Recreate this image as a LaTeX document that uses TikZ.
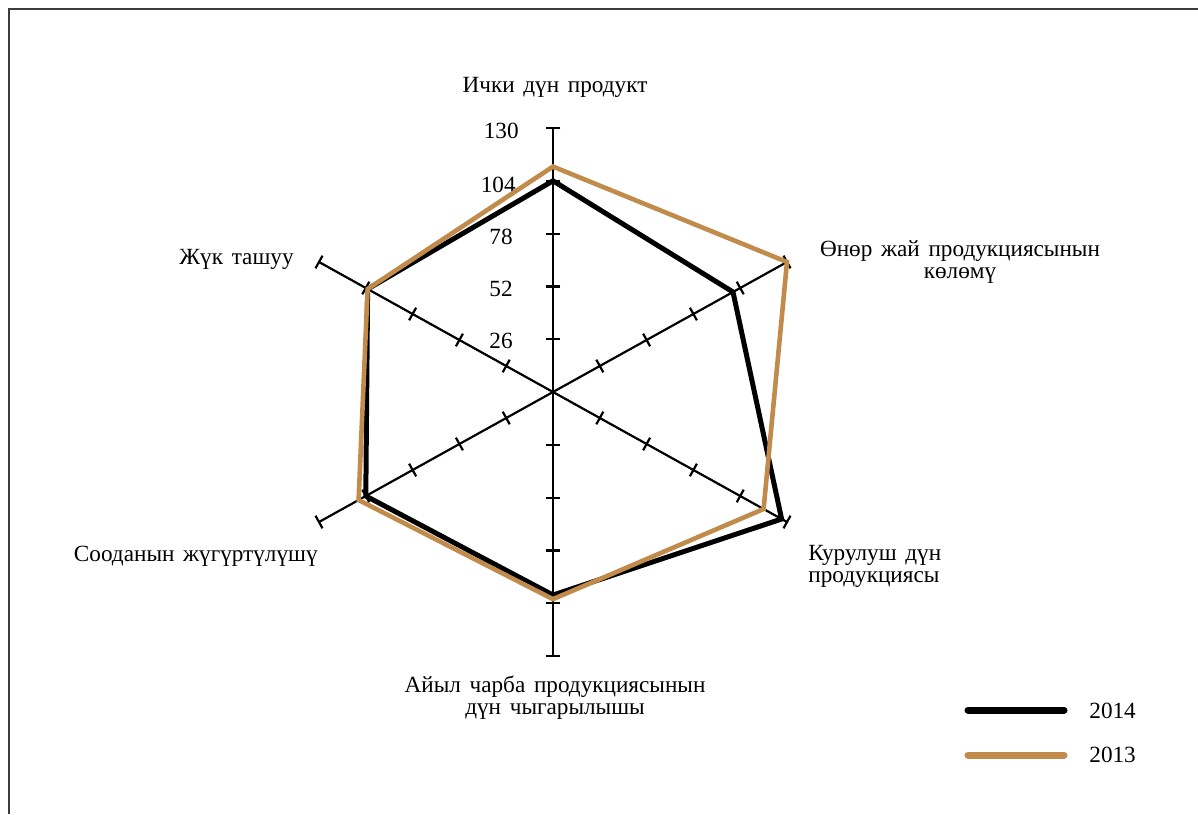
\documentclass[tikz,border=0pt]{standalone}
\usepackage{fontspec}
\setmainfont[WordSpace=1.5]{Liberation Serif}
\usetikzlibrary{calc}
\definecolor{gold}{RGB}{192,139,75}
\definecolor{framegray}{RGB}{60,60,60}
\newcommand\lblfont{\fontsize{11.6pt}{10.9pt}\selectfont}
\begin{document}
\begin{tikzpicture}[x=0.5pt,y=-0.5pt,
  axisline/.style={line width=1.1pt, black},
  tickline/.style={line width=1.1pt, black},
  framestyle/.style={line width=1pt, framegray},
  lbl/.style={font=\lblfont, inner sep=0pt},
  ser14/.style={line width=2.5pt, black, line join=miter},
  ser13/.style={line width=2.3pt, gold, line join=miter},
  leg14/.style={line width=3.5pt, line cap=round, black},
  leg13/.style={line width=3.5pt, line cap=round, gold}]
\useasboundingbox (0,0) rectangle (1198,814);
\draw[framestyle] (9,814) -- (9,9) -- (1198,9);

\coordinate (c) at (553,392);
\coordinate (a1) at (553,128);
\coordinate (a2) at (787,262);
\coordinate (a3) at (787,522);
\coordinate (a4) at (553,656);
\coordinate (a5) at (319,522);
\coordinate (a6) at (319,262);

\foreach \i in {1,...,6}{
  \draw[axisline] (c) -- (a\i);
  \foreach \k in {1,...,5}{
    \coordinate (t) at ($(c)!{\k/5}!(a\i)$);
    \draw[tickline] ($(t)!3.6pt!90:(c)$) -- ($(t)!3.6pt!-90:(c)$);
  }
}

% scale labels
\node[lbl, anchor=east] (v130) at (519,131) {130};
\node[lbl, anchor=east] (v104) at (516,185) {104};
\node[lbl, anchor=east] (v78) at (513,237) {78};
\node[lbl, anchor=east] (v52) at (513,289) {52};
\node[lbl, anchor=east] (v26) at (513,341) {26};

% series 2014
\draw[ser14] ($(c)!{104/130}!(a1)$) -- ($(c)!{100/130}!(a2)$) -- ($(c)!{127/130}!(a3)$)
  -- ($(c)!{100/130}!(a4)$) -- ($(c)!{104/130}!(a5)$) -- ($(c)!{103/130}!(a6)$) -- cycle;
% series 2013
\draw[ser13] ($(c)!{111/130}!(a1)$) -- ($(c)!{130/130}!(a2)$) -- ($(c)!{117/130}!(a3)$)
  -- ($(c)!{102/130}!(a4)$) -- ($(c)!{108/130}!(a5)$) -- ($(c)!{103/130}!(a6)$) -- cycle;

% axis labels
\node[lbl] (l1) at (555,87) {Ички дүн продукт};
\node[lbl, align=center] (l2) at (960,262) {Өнөр жай продукциясынын\\көлөмү};
\node[lbl, align=left, anchor=west] (l3) at (808,566) {Курулуш дүн\\продукциясы};
\node[lbl, align=center] (l4) at (555,698) {Айыл чарба продукциясынын\\дүн чыгарылышы};
\node[lbl, anchor=east] (l5) at (318,556) {Сооданын жүгүртүлүшү};
\node[lbl, anchor=east] (l6) at (294,259) {Жүк ташуу};

% legend
\coordinate (g1s) at (968,710);
\coordinate (g1e) at (1064,710);
\coordinate (g2s) at (968,755);
\coordinate (g2e) at (1064,755);
\draw[leg14] (g1s) -- (g1e);
\draw[leg13] (g2s) -- (g2e);
\node[lbl, anchor=west] (y14) at (1089,711) {2014};
\node[lbl, anchor=west] (y13) at (1089,755) {2013};
\end{tikzpicture}
\end{document}
